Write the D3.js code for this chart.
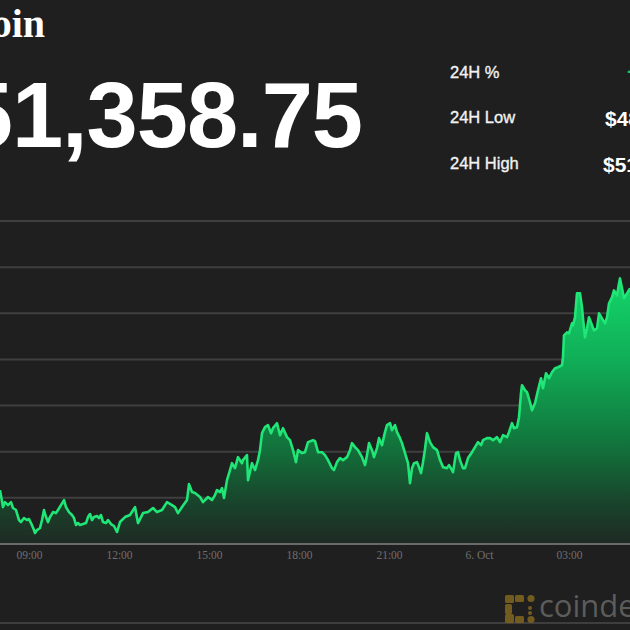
<!DOCTYPE html>
<html><head><meta charset="utf-8">
<script src="https://cdn.jsdelivr.net/npm/d3@7"></script>
<style>html,body{margin:0;padding:0;background:#1f1f1f;}svg{display:block;}</style>
</head><body>
<script>
// ---- data (minutes after 08:00 on 5 Oct, BTC price USD) ----
const minutesFromStart = [2,8,12,18,24,28,34,40,44,50,56,60,64,70,72,76,82,86,90,94,98,102,108,114,118,124,130,134,140,146,150,154,158,162,168,174,178,182,186,190,196,200,204,208,214,218,224,230,236,242,252,262,272,278,288,298,308,316,326,336,346,352,358,366,376,380,386,392,402,408,418,426,432,436,442,446,450,456,462,466,472,478,486,488,496,498,506,512,518,522,526,532,538,544,548,556,562,568,576,582,588,594,598,606,612,618,628,632,638,646,652,658,666,670,676,682,688,696,702,706,712,718,726,732,736,740,746,750,756,760,766,772,776,782,786,792,796,802,806,812,818,822,826,830,836,840,844,848,852,856,862,868,876,882,888,896,900,906,908,914,918,922,928,932,938,946,952,958,964,968,976,982,988,996,1002,1008,1016,1020,1026,1030,1036,1040,1044,1046,1052,1056,1062,1066,1072,1078,1084,1088,1094,1100,1106,1112,1118,1126,1128,1130,1136,1140,1146,1148,1152,1156,1162,1166,1168,1172,1176,1180,1186,1190,1196,1200,1206,1212,1216,1220,1226,1230,1236,1240,1242,1246,1250,1256,1262];
const prices = [49084,48900,48954,48922,48954,48890,48868,48760,48738,48781,48760,48771,48727,48651,48619,48651,48673,48760,48868,48792,48738,48792,48846,48835,48868,48922,48976,48900,48846,48814,48781,48706,48727,48706,48716,48727,48792,48825,48760,48792,48803,48781,48814,48738,48727,48760,48716,48695,48630,48738,48792,48814,48900,48727,48835,48846,48890,48846,48868,48954,48922,48900,48835,48900,48976,49149,49063,49052,49009,48954,49009,48976,49030,49084,49063,49106,48998,49192,49301,49376,49322,49441,49376,49409,49463,49192,49376,49301,49409,49517,49701,49766,49788,49701,49755,49809,49679,49755,49658,49625,49517,49387,49517,49485,49495,49604,49625,49614,49495,49495,49463,49409,49322,49301,49387,49431,49409,49441,49517,49593,49550,49517,49441,49355,49463,49593,49517,49441,49539,49647,49571,49712,49788,49809,49733,49788,49712,49647,49593,49485,49376,49160,49322,49376,49387,49333,49268,49387,49528,49701,49604,49550,49517,49409,49333,49322,49355,49301,49279,49485,49495,49409,49322,49322,49431,49495,49550,49604,49571,49625,49647,49647,49625,49658,49604,49679,49658,49712,49809,49755,49766,49874,50134,50220,50166,50145,50036,49950,50026,50166,50296,50188,50350,50296,50361,50404,50415,50437,50523,50761,50794,50783,50891,50870,50956,51216,51216,51064,50945,50740,50837,50956,50870,50815,50837,50999,50945,50891,50956,51108,51173,51248,51194,51324,51378,51270,51162,51216,51270];
const gridValues = [48500,49000,49500,50000,50500,51000,51500,52000];
const tickHours = [9,12,15,18,21,24,27];
const titleText = "Bitcoin";
const priceText = "$51,358.75";
const statLabels = ["24H %","24H Low","24H High"];
const statValues = ["+4.86%","$48,619.38","$51,378.02"];

const W = 630, H = 630;
const start = new Date(Date.UTC(2021,9,5,8,0));
const toDate = m => new Date(start.getTime() + m*60000);
const data = minutesFromStart.map((m,i)=>({t:toDate(m), p:prices[i]}));

const svg = d3.select("body").append("svg").attr("width",W).attr("height",H)
  .style("font-family","'Liberation Sans', Arial, sans-serif");
svg.append("rect").attr("width",W).attr("height",H).attr("fill","#1f1f1f");

const x = d3.scaleTime().domain([toDate(0), toDate(1260)]).range([-1, 629]);
const y = d3.scaleLinear().domain([48500, 52000]).range([544, 221]);

// header
svg.append("text").attr("x",45).attr("y",37).attr("text-anchor","end")
  .attr("fill","#fff").attr("font-family","'Liberation Serif', 'Times New Roman', serif")
  .attr("font-weight","bold").attr("font-size",40).text(titleText);
svg.append("text").attr("x",362).attr("y",147).attr("text-anchor","end")
  .attr("fill","#fff").attr("font-weight","bold").attr("font-size",92)
  .attr("letter-spacing",-1).text(priceText);
const statY = [78,123,169];
statLabels.forEach((s,i)=>{
  svg.append("text").attr("x",450).attr("y",statY[i]).attr("fill","#f2f2f2")
    .attr("font-size",16.5).attr("stroke","#f2f2f2").attr("stroke-width",0.35).text(s);
});
svg.append("text").attr("x",627).attr("y",79).attr("fill","#19c46a").attr("font-weight","bold").attr("font-size",20).text(statValues[0]);
svg.append("text").attr("x",605).attr("y",126).attr("fill","#fff").attr("font-weight","bold").attr("font-size",21).text(statValues[1]);
svg.append("text").attr("x",603).attr("y",172).attr("fill","#fff").attr("font-weight","bold").attr("font-size",21).text(statValues[2]);

// grid
const defs = svg.append("defs");
const grad = defs.append("linearGradient").attr("id","fillGrad")
  .attr("gradientUnits","userSpaceOnUse").attr("x1",0).attr("x2",0)
  .attr("y1",y(51400)).attr("y2",y(48500));
[[0,"#14d66a"],[0.3,"#10b058"],[0.6,"#117a3e"],[0.85,"#19432b"],[1,"#1f2a23"]].forEach(([o,c])=>{
  grad.append("stop").attr("offset",o).attr("stop-color",c);
});

svg.append("g").selectAll("line").data(gridValues.slice(1)).join("line")
  .attr("x1",0).attr("x2",W).attr("y1",d=>y(d)).attr("y2",d=>y(d))
  .attr("stroke","#3f3f3f").attr("stroke-width",2);

const area = d3.area().x(d=>x(d.t)).y0(y(48500)).y1(d=>y(d.p)).curve(d3.curveLinear);
const line = d3.line().x(d=>x(d.t)).y(d=>y(d.p)).curve(d3.curveLinear);
svg.append("path").datum(data).attr("d",area).attr("fill","url(#fillGrad)");
svg.append("path").datum(data).attr("d",line).attr("fill","none")
  .attr("stroke","#1fe676").attr("stroke-width",2.6).attr("stroke-linejoin","round");

// baseline
svg.append("line").attr("x1",0).attr("x2",W).attr("y1",y(48500)).attr("y2",y(48500))
  .attr("stroke","#6a6a6a").attr("stroke-width",2);

// x axis
const fmt = d => d.getUTCHours()===0 ? (d.getUTCDate()+". Oct") : d3.utcFormat("%H:%M")(d);
const xAxis = d3.axisBottom(x).tickValues(tickHours.map(h=>toDate((h-8)*60))).tickFormat(fmt).tickSize(0).tickPadding(0);
const ax = svg.append("g").attr("transform","translate(0,551)").call(xAxis);
ax.select(".domain").remove();
ax.selectAll("text").attr("fill","#6f6f6f").attr("font-family","'Liberation Serif','Times New Roman',serif")
  .attr("font-size",11.5).attr("dy","0.71em");

// bottom line
svg.append("line").attr("x1",0).attr("x2",W).attr("y1",623).attr("y2",623)
  .attr("stroke","#4a4a4a").attr("stroke-width",1.5);

// coindesk watermark
const logo = svg.append("g").attr("fill","#7c6220").attr("opacity",0.9);
[[505,595,9,8],[515,595,9,7],[505,604,7,10],[505,614,9,9],[515,616,9,7]].forEach(r=>{
  logo.append("rect").attr("x",r[0]).attr("y",r[1]).attr("width",r[2]).attr("height",r[3]).attr("rx",1.5);
});
[[531,598.5,3.6],[531,619.5,3.6],[530,608,2],[530,613,2]].forEach(c=>{
  logo.append("circle").attr("cx",c[0]).attr("cy",c[1]).attr("r",c[2]);
});
svg.append("text").attr("x",539).attr("y",617).attr("fill","#5c5c5c")
  .attr("font-family","'Open Sans','Liberation Sans',sans-serif").attr("font-size",31).text("coindesk");
</script>
</body></html>
